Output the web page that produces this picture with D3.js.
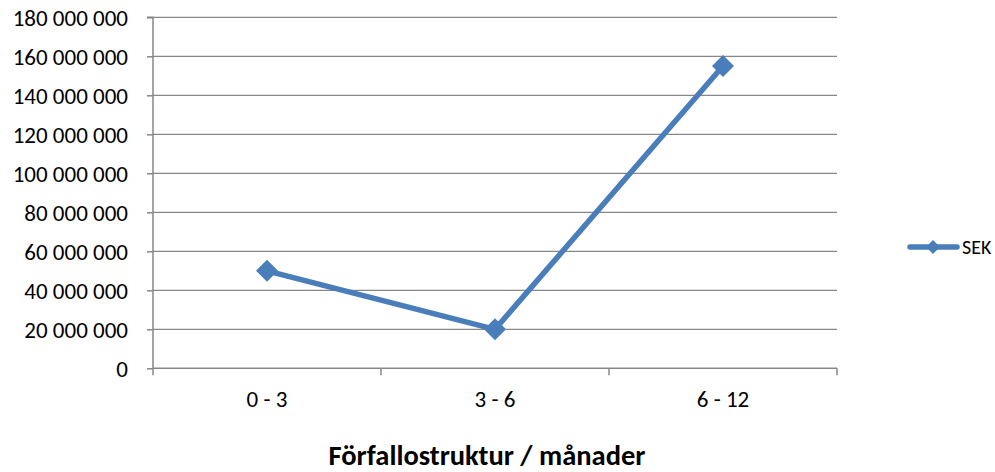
<!DOCTYPE html>
<html>
<head>
<meta charset="utf-8">
<script src="https://cdn.jsdelivr.net/npm/d3@7"></script>
<style>
  html, body { margin: 0; padding: 0; background: #fff; }
  svg { display: block; font-family: Carlito, Calibri, "Liberation Sans", Arial, sans-serif; }
</style>
</head>
<body>
<svg id="chart" width="995" height="472"></svg>
<script>
const categories = ["0 - 3", "3 - 6", "6 - 12"];
const seriesName = "SEK";
const seriesValues = [50000000, 20000000, 155000000];
const yTicks = [0, 20000000, 40000000, 60000000, 80000000, 100000000, 120000000, 140000000, 160000000, 180000000];
const xTitle = "Förfallostruktur / månader";

(function () {
const svg = d3.select("#chart");
const mLeft = 153, mRight = 837, mTop = 17.3, mBottom = 368.3;
const gray = "#878787";
const blue = "#4a7ebb";

const x = d3.scaleBand().domain(categories).range([mLeft, mRight]).paddingInner(0).paddingOuter(0);
const y = d3.scaleLinear().domain([0, 180000000]).range([mBottom, mTop]);
const fmt = v => d3.format(",")(v).replace(/,/g, " ");

// gridlines
svg.append("g").selectAll("line").data(yTicks.filter(d => d > 0)).join("line")
  .attr("x1", mLeft).attr("x2", mRight)
  .attr("y1", d => y(d)).attr("y2", d => y(d))
  .attr("stroke", gray).attr("stroke-width", 1.3);

// y axis
const yAxis = d3.axisLeft(y).tickValues(yTicks).tickSize(6).tickPadding(19).tickFormat(fmt);
const gy = svg.append("g").attr("transform", `translate(${mLeft},0)`).call(yAxis);
gy.select(".domain").attr("stroke", gray).attr("stroke-width", 1.5).attr("d", `M-6,${mTop}H0V${mBottom}`);
gy.selectAll(".tick line").attr("stroke", gray).attr("stroke-width", 1.5);
gy.selectAll(".tick text").attr("font-size", 23).attr("fill", "#000").attr("dy", "0.36em")
  .attr("font-family", 'Carlito, Calibri, "Liberation Sans", Arial, sans-serif');

// x axis with boundary ticks
const boundaries = categories.map(c => x(c)).concat([mRight]);
const gx = svg.append("g");
gx.append("line").attr("x1", mLeft).attr("x2", mRight).attr("y1", mBottom).attr("y2", mBottom)
  .attr("stroke", gray).attr("stroke-width", 1.5);
gx.selectAll(".bt").data(boundaries).join("line").attr("class", "bt")
  .attr("x1", d => d).attr("x2", d => d).attr("y1", mBottom).attr("y2", mBottom + 7)
  .attr("stroke", gray).attr("stroke-width", 1.5);
gx.selectAll("text").data(categories).join("text")
  .attr("x", d => x(d) + x.bandwidth() / 2).attr("y", mBottom + 39)
  .attr("text-anchor", "middle").attr("font-size", 23).attr("fill", "#000").text(d => d);

// x title
svg.append("text").attr("x", 487).attr("y", 465).attr("text-anchor", "middle")
  .attr("font-size", 28.5).attr("font-weight", "bold").attr("fill", "#000").text(xTitle);

// series line
const pts = categories.map((c, i) => [x(c) + x.bandwidth() / 2, y(seriesValues[i])]);
svg.append("path").datum(pts).attr("d", d3.line())
  .attr("fill", "none").attr("stroke", blue).attr("stroke-width", 5.5).attr("stroke-linejoin", "round");

const diamond = r => `M0,${-r}L${r},0L0,${r}L${-r},0Z`;
svg.append("g").selectAll("path").data(pts).join("path")
  .attr("transform", d => `translate(${d[0]},${d[1]})`)
  .attr("d", diamond(11)).attr("fill", blue);

// legend
const lg = svg.append("g");
lg.append("line").attr("x1", 910).attr("x2", 957).attr("y1", 247).attr("y2", 247)
  .attr("stroke", blue).attr("stroke-width", 5.5).attr("stroke-linecap", "round");
lg.append("path").attr("transform", "translate(933,247)").attr("d", diamond(7)).attr("fill", blue);
lg.append("text").attr("x", 962).attr("y", 253.5).attr("font-size", 20).attr("fill", "#000").text(seriesName);
})();
</script>
</body>
</html>
